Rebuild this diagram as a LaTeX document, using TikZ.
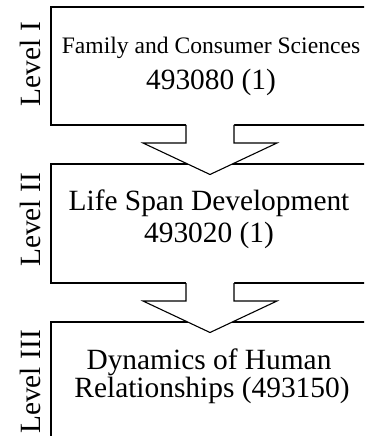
\documentclass[tikz,border=0pt]{standalone}
\usepackage{fontspec}
\setmainfont{Liberation Serif}
\usetikzlibrary{calc}
\begin{document}
\begin{tikzpicture}[x=1bp,y=-1bp,line width=1.1bp,
  box/.style={draw,minimum width=320bp,inner sep=0pt,outer sep=0pt,anchor=north west},
  lvl/.style={rotate=90,anchor=base,inner sep=0pt,font=\fontsize{29.5}{31}\selectfont},
  txt/.style={anchor=base,inner sep=0pt,font=\fontsize{29.5}{31}\selectfont},
  smalltxt/.style={txt,font=\fontsize{23.7}{25}\selectfont}]
\useasboundingbox (0,0) rectangle (364,436);
\clip (0,0) rectangle (364,436);
% boxes
\node[box,minimum height=118bp] (b1) at (51,7) {};
\node[box,minimum height=119bp] (b2) at (51,164) {};
\node[box,minimum height=140bp] (b3) at (51,322) {};
% box texts
\node[smalltxt] (t1a) at (211,54) {Family and Consumer Sciences};
\node[txt] (t1b) at (211,90) {493080 (1)};
\node[txt] (t2a) at (209,211) {Life Span Development};
\node[txt] (t2b) at (209,242) {493020 (1)};
\node[txt] (t3a) at (209,369) {Dynamics of Human};
\node[txt] (t3b) at (212,397) {Relationships (493150)};
% level labels
\node[lvl] (l1) at (40,64) {Level I};
\node[lvl] (l2) at (40,220) {Level II};
\node[lvl] (l3) at (40,382) {Level III};
% block arrows
\foreach \s/\t in {b1/b2,b2/b3}{
  \coordinate (\s-o) at ($(\s.south)+(-1,0)$);
  \coordinate (\s-tip) at ($(\t.north)+(-1,10.5)$);
  \fill[white] ($(\s-o)+(-24,-0.8)$) -- ($(\s-o)+(-24,18)$) -- ($(\s-o)+(-67,18)$)
     -- (\s-tip) -- ($(\s-o)+(67,18)$) -- ($(\s-o)+(24,18)$) -- ($(\s-o)+(24,-0.8)$) -- cycle;
  \draw ($(\s-o)+(-24,0)$) -- ($(\s-o)+(-24,18)$) -- ($(\s-o)+(-67,18)$)
     -- (\s-tip) -- ($(\s-o)+(67,18)$) -- ($(\s-o)+(24,18)$) -- ($(\s-o)+(24,0)$);
}
\end{tikzpicture}
\end{document}
